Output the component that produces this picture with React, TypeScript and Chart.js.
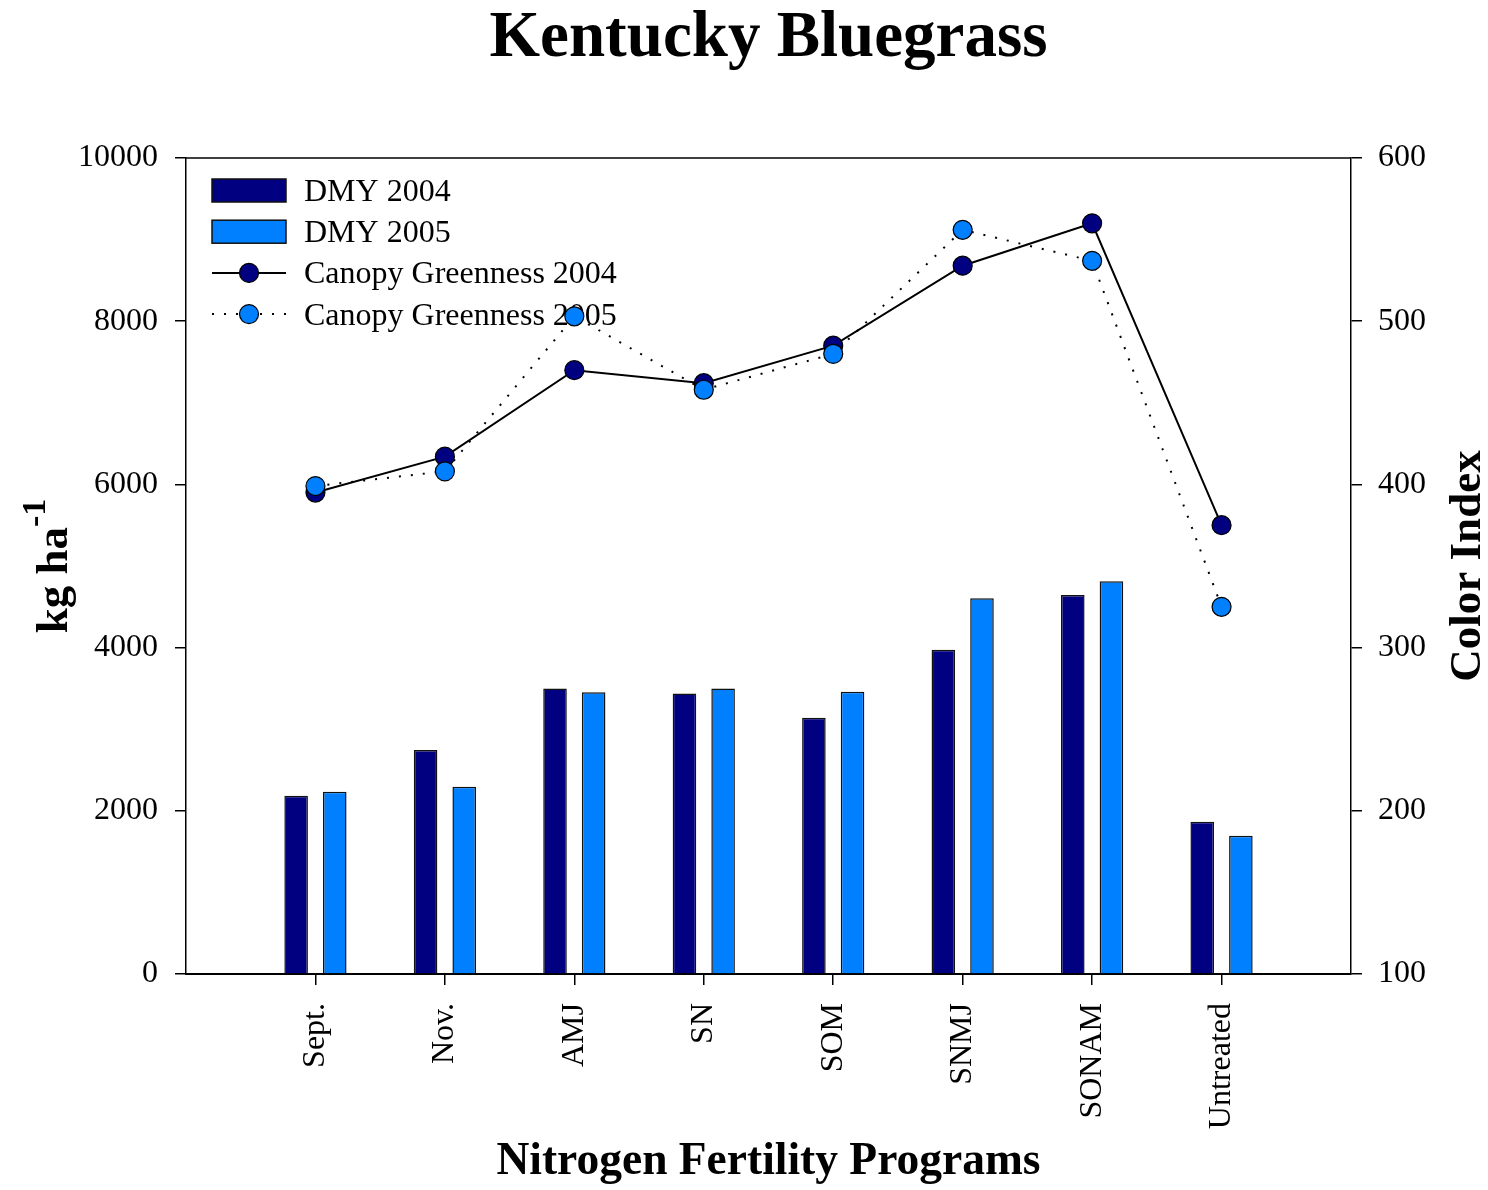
import React, { useEffect, useRef } from 'react';
import { Chart, registerables } from 'chart.js';

Chart.register(...registerables);

// ---------- data ----------
const categories = ['Sept.', 'Nov.', 'AMJ', 'SN', 'SOM', 'SNMJ', 'SONAM', 'Untreated'];
const dmy2004 = [2184, 2745, 3500, 3436, 3141, 3975, 4646, 1865];
const dmy2005 = [2233, 2294, 3452, 3500, 3460, 4605, 4814, 1693];
const canopy2004 = [395, 417, 470, 462, 485, 534, 560, 375];
const canopy2005 = [399, 408, 503, 458, 480, 556, 537, 325];
const seriesLabels = ['DMY 2004', 'DMY 2005', 'Canopy Greenness 2004', 'Canopy Greenness 2005'];
const leftAxisRange = [0, 10000, 2000];
const rightAxisRange = [100, 600, 100];

const chartTitle = 'Kentucky Bluegrass';
const xTitle = 'Nitrogen Fertility Programs';
const yLeftTitle = 'kg ha';
const yLeftSup = '-1';
const yRightTitle = 'Color Index';

// ---------- styles ----------
const SERIF = '"Liberation Serif", "Times New Roman", Times, serif';
const NAVY = '#000080';
const LIGHT = '#0080FF';

// pad the category axis with an empty slot on each side
const labels = ['', ...categories, ''];
const pad = (arr: number[]) => [null, ...arr, null];

const frameAndTitles = {
  id: 'frameAndTitles',
  beforeDatasetsDraw(chart: any) {
    const ctx = chart.ctx;
    const ca = chart.chartArea;
    ctx.save();
    // top frame line
    ctx.strokeStyle = '#000';
    ctx.lineWidth = 1.5;
    ctx.beginPath();
    ctx.moveTo(ca.left, ca.top);
    ctx.lineTo(ca.right, ca.top);
    ctx.stroke();

    // legend inside the plot
    const x0 = ca.left + 26;
    const symW = 74;
    let y = ca.top + 32.5;
    chart.data.datasets.forEach((ds: any) => {
      ctx.setLineDash([]);
      if (ds.type === 'bar') {
        ctx.fillStyle = ds.backgroundColor;
        ctx.fillRect(x0, y - 11.5, symW, 23);
        ctx.strokeStyle = '#111';
        ctx.lineWidth = 1.5;
        ctx.strokeRect(x0, y - 11.5, symW, 23);
      } else {
        ctx.strokeStyle = ds.borderColor;
        ctx.lineWidth = ds.borderWidth;
        ctx.setLineDash(ds.borderDash || []);
        ctx.beginPath();
        ctx.moveTo(x0, y);
        ctx.lineTo(x0 + symW, y);
        ctx.stroke();
        ctx.setLineDash([]);
        ctx.beginPath();
        ctx.arc(x0 + symW / 2, y, ds.pointRadius, 0, Math.PI * 2);
        ctx.fillStyle = ds.pointBackgroundColor;
        ctx.fill();
        ctx.lineWidth = ds.pointBorderWidth;
        ctx.strokeStyle = ds.pointBorderColor;
        ctx.stroke();
      }
      ctx.fillStyle = '#000';
      ctx.font = `32px ${SERIF}`;
      ctx.textAlign = 'left';
      ctx.textBaseline = 'alphabetic';
      ctx.fillText(ds.label, x0 + 92, y + 10.5);
      y += 41.2;
    });
    ctx.restore();
  },
  afterDraw(chart: any) {
    const ctx = chart.ctx;
    const ca = chart.chartArea;
    const cy = (ca.top + ca.bottom) / 2;
    const mainFont = `bold 45px ${SERIF}`;
    const supFont = `bold 34px ${SERIF}`;
    ctx.save();
    ctx.fillStyle = '#000';
    ctx.font = mainFont;
    const wm = ctx.measureText(yLeftTitle).width;
    ctx.font = supFont;
    const ws = ctx.measureText(yLeftSup).width;
    const total = wm + ws;
    ctx.translate(67, cy + total / 2);
    ctx.rotate(-Math.PI / 2);
    ctx.textAlign = 'left';
    ctx.textBaseline = 'alphabetic';
    ctx.font = mainFont;
    ctx.fillText(yLeftTitle, 0, 0);
    ctx.font = supFont;
    ctx.fillText(yLeftSup, wm, -22);
    ctx.restore();

    ctx.save();
    ctx.fillStyle = '#000';
    ctx.font = mainFont;
    ctx.translate(chart.width - 8, cy);
    ctx.rotate(-Math.PI / 2);
    ctx.textAlign = 'center';
    ctx.textBaseline = 'alphabetic';
    ctx.fillText(yRightTitle, 0, 0);
    ctx.restore();
  },
};

export default function App() {
  const canvasRef = useRef<HTMLCanvasElement | null>(null);

  useEffect(() => {
    document.body.style.margin = '0';
    const canvas = canvasRef.current;
    if (!canvas) return;
    const lastIdx = labels.length - 1;
    const tickCol = (c: any) => (c.index === 0 || c.index === lastIdx ? 'rgba(0,0,0,0)' : '#000');

    const chart = new Chart(canvas, {
      type: 'bar',
      data: {
        labels,
        datasets: [
          {
            type: 'bar',
            label: seriesLabels[0],
            data: pad(dmy2004),
            backgroundColor: NAVY,
            borderColor: '#111',
            borderWidth: 1.5,
            yAxisID: 'y',
            order: 2,
            categoryPercentage: 0.597,
            barPercentage: 0.61,
          },
          {
            type: 'bar',
            label: seriesLabels[1],
            data: pad(dmy2005),
            backgroundColor: LIGHT,
            borderColor: '#111',
            borderWidth: 1.5,
            yAxisID: 'y',
            order: 2,
            categoryPercentage: 0.597,
            barPercentage: 0.61,
          },
          {
            type: 'line',
            label: seriesLabels[2],
            data: pad(canopy2004),
            borderColor: '#000',
            borderWidth: 2,
            backgroundColor: NAVY,
            pointBackgroundColor: NAVY,
            pointBorderColor: '#000',
            pointBorderWidth: 1.2,
            pointRadius: 9.5,
            fill: false,
            tension: 0,
            yAxisID: 'y1',
            order: 1,
          },
          {
            type: 'line',
            label: seriesLabels[3],
            data: pad(canopy2005),
            borderColor: '#000',
            borderWidth: 2,
            borderDash: [2, 10],
            backgroundColor: LIGHT,
            pointBackgroundColor: LIGHT,
            pointBorderColor: '#000',
            pointBorderWidth: 1.2,
            pointRadius: 9.5,
            fill: false,
            tension: 0,
            yAxisID: 'y1',
            order: 0,
          },
        ] as any,
      },
      options: {
        responsive: false,
        maintainAspectRatio: false,
        animation: false,
        devicePixelRatio: 1,
        events: [],
        layout: { padding: 0 },
        plugins: {
          legend: { display: false },
          tooltip: { enabled: false },
          title: {
            display: true,
            text: chartTitle,
            fullSize: false,
            color: '#000',
            font: { family: SERIF, size: 65, weight: 'bold' },
            padding: { top: 0, bottom: 80 },
          },
        },
        scales: {
          x: {
            type: 'category',
            offset: false,
            grid: {
              offset: false,
              drawOnChartArea: false,
              drawTicks: true,
              tickLength: 11,
              lineWidth: 1.5,
              tickColor: tickCol,
              color: tickCol,
            },
            border: { display: true, color: '#000', width: 2 },
            ticks: {
              autoSkip: false,
              minRotation: 90,
              maxRotation: 90,
              padding: 18,
              color: '#000',
              font: { family: SERIF, size: 32 },
            },
            title: {
              display: true,
              text: xTitle,
              color: '#000',
              font: { family: SERIF, size: 45.5, weight: 'bold' },
              padding: { top: 0, bottom: 0 },
            },
            afterFit: (scale: any) => {
              scale.height = 216;
            },
          },
          y: {
            type: 'linear',
            position: 'left',
            min: leftAxisRange[0],
            max: leftAxisRange[1],
            grid: {
              drawOnChartArea: false,
              drawTicks: true,
              tickLength: 11,
              lineWidth: 1.5,
              color: '#000',
            },
            border: { display: true, color: '#000', width: 1.5 },
            ticks: {
              stepSize: leftAxisRange[2],
              padding: 17,
              color: '#000',
              font: { family: SERIF, size: 32 },
              callback: (v: any) => String(v),
            },
            afterFit: (scale: any) => {
              scale.width = 186;
            },
          },
          y1: {
            type: 'linear',
            position: 'right',
            min: rightAxisRange[0],
            max: rightAxisRange[1],
            grid: {
              drawOnChartArea: false,
              drawTicks: true,
              tickLength: 11,
              lineWidth: 1.5,
              color: '#000',
            },
            border: { display: true, color: '#000', width: 1.5 },
            ticks: {
              stepSize: rightAxisRange[2],
              padding: 16,
              color: '#000',
              font: { family: SERIF, size: 32 },
              callback: (v: any) => String(v),
            },
            afterFit: (scale: any) => {
              scale.width = 137;
            },
          },
        },
      } as any,
      plugins: [frameAndTitles],
    });
    return () => chart.destroy();
  }, []);

  return (
    <div style={{ width: 1488, height: 1190, background: '#fff' }}>
      <canvas ref={canvasRef} width={1488} height={1190} style={{ display: 'block' }} />
    </div>
  );
}
